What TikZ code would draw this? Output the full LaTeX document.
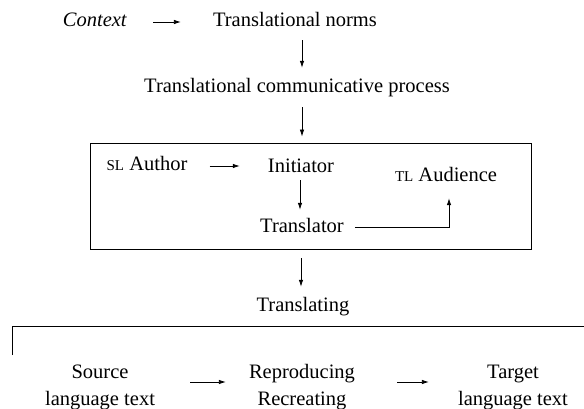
\documentclass[tikz,border=0pt]{standalone}
\usepackage{fontspec}
\setmainfont{Liberation Serif}
\usetikzlibrary{arrows.meta,calc}
\newcommand{\smc}[1]{{\fontsize{15}{15}\selectfont #1}}
\tikzset{
  txt/.style={inner sep=0pt, text height=13pt, text depth=4pt, anchor=base, font=\fontsize{20.5}{27}\selectfont},
  mtxt/.style={inner sep=0pt, anchor=base, align=center, font=\fontsize{20.5}{27}\selectfont},
  arr/.style={line width=0.8pt, -{Latex[length=7pt,width=4.5pt]}},
  ln/.style={line width=0.8pt},
}
\begin{document}
\begin{tikzpicture}[x=1pt,y=-1pt]
\useasboundingbox (0,0) rectangle (584,409);
% nodes
\node[txt] (ctx) at (95,27) {\textit{Context}};
\node[txt] (norms) at (295,27) {Translational norms};
\node[txt] (tcp) at (297,93) {Translational communicative process};
\node[ln, draw, minimum width=441pt, minimum height=106pt, inner sep=0pt] (box) at (310.5,196) {};
\node[txt] (author) at (147,171) {\smc{SL} Author};
\node[txt] (init) at (301,172) {Initiator};
\node[txt] (aud) at (446,182) {\smc{TL} Audience};
\node[txt] (trans) at (302,232) {Translator};
\node[txt] (tlating) at (303,311) {Translating};
\node[mtxt] (src) at (100,405) {Source\\language text};
\node[mtxt] (repro) at (302,405) {Reproducing\\Recreating};
\node[mtxt] (tgt) at (513,405) {Target\\language text};
% bracket
\coordinate (bl) at (12,355);
\coordinate (bc) at (12,326);
\coordinate (br) at (590,326);
\draw[ln] (bl) -- (bc) -- (br);
% connectors
\draw[arr, shorten <=26pt, shorten >=32pt] ([yshift=5pt]ctx.base east) -- ([yshift=5pt]norms.base west);
\draw[arr, shorten <=9pt, shorten >=12pt] ([xshift=7pt]norms.south) -- ([xshift=7pt]norms.south |- tcp.north);
\draw[arr, shorten <=10pt, shorten >=6pt] ([xshift=5pt]tcp.south) -- ([xshift=5pt]tcp.south |- box.north);
\draw[arr, shorten <=22pt, shorten >=28pt] ([yshift=5pt]author.base east) -- ([yshift=5pt]author.base east -| init.west);
\draw[arr, shorten <=4pt, shorten >=9pt] ([xshift=-1pt]init.south) -- ([xshift=-1pt]init.south |- trans.north);
\draw[arr, shorten <=11pt, shorten >=12pt] ([yshift=5pt]trans.base east) -| ([xshift=3pt]aud.south);
\draw[arr, shorten <=9pt, shorten >=11pt] ([xshift=-2pt]tlating.north |- box.south) -- ([xshift=-2pt]tlating.north);
\draw[arr, shorten <=35pt, shorten >=23pt] ([yshift=23pt]src.base east) -- ([yshift=23pt]src.base east -| repro.west);
\draw[arr, shorten <=42pt, shorten >=29pt] ([yshift=23pt]repro.base east) -- ([yshift=23pt]repro.base east -| tgt.west);
\end{tikzpicture}
\end{document}
